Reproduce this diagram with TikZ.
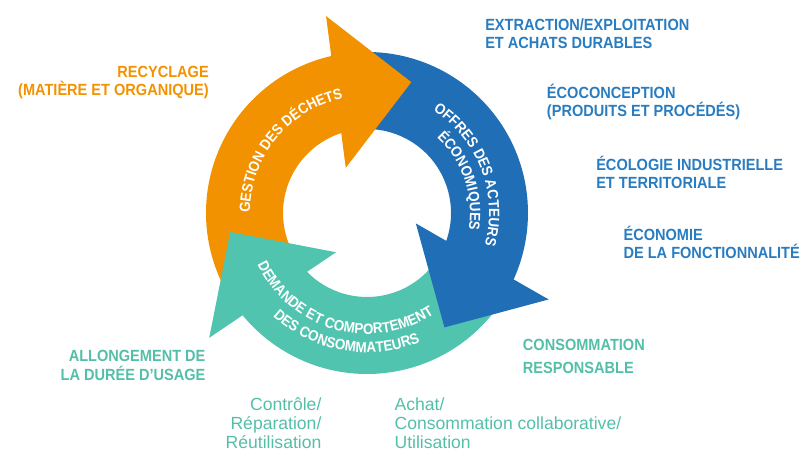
\documentclass[tikz,border=0pt]{standalone}
\usepackage{fontspec}
\setmainfont{Liberation Sans}[BoldFeatures={FakeStretch=0.9}]
\usetikzlibrary{decorations.text}

\definecolor{recyorange}{RGB}{243,146,0}
\definecolor{offreblue}{RGB}{31,110,182}
\definecolor{offretext}{RGB}{40,124,193}
\definecolor{demteal}{RGB}{81,196,175}
\definecolor{demtext}{RGB}{84,191,168}

% ring part of an arrow: colour, start angle, end angle (clockwise)
\newcommand{\ringpart}[3]{%
  \fill[#1] (#2:161) arc[start angle=#2, end angle=#3, radius=161]
    -- (#3:84) arc[start angle=#3, end angle=#2, radius=84] -- cycle;}
% arrow head: colour, angle of its base
\newcommand{\ringhead}[2]{%
  \fill[#1, rotate=#2, shift={(125,0)}, rotate=-7] (-76.5,0) -- (76.5,0) -- (0,-76) -- cycle;}

\begin{document}
\begin{tikzpicture}[x=0.025cm, y=0.025cm,
	lbl/.style={font=\bfseries\fontsize{11.5}{13}\selectfont, inner sep=0},
	sublbl/.style={font=\fontsize{12.5}{13.5}\selectfont, inner sep=0},
	ringtext/.style={decorate, decoration={text along path, text align=center, text color=white, text={#1}}}]
	\useasboundingbox (-367,-237) rectangle (434,213);
	\coordinate (c) at (0,0);
	\ringpart{recyorange}{211}{99.4}
	\ringpart{offreblue}{94.4}{-27.8}
	\ringpart{demteal}{327.2}{216}
	\ringhead{recyorange}{104.4}
	\ringhead{offreblue}{-22.8}
	\ringhead{demteal}{221}
	\path[ringtext={|\bfseries\fontsize{10.6}{12}\selectfont|GESTION DES DÉCHETS}] (200.8:117) arc[start angle=200.8, end angle=80.8, radius=117];
	\path[ringtext={|\bfseries\fontsize{10.6}{12}\selectfont|OFFRES DES ACTEURS}] (81:122) arc[start angle=81, end angle=-39, radius=122];
	\path[ringtext={|\bfseries\fontsize{10.6}{12}\selectfont|ÉCONOMIQUES}] (79:103) arc[start angle=79, end angle=-41, radius=103];
	\path[ringtext={|\bfseries\fontsize{10.6}{12}\selectfont|DEMANDE ET COMPORTEMENT}] (194.5:121) arc[start angle=194.5, end angle=314.5, radius=121];
	\path[ringtext={|\bfseries\fontsize{10.6}{12}\selectfont|DES CONSOMMATEURS}] (200:139.5) arc[start angle=200, end angle=320, radius=139.5];
	% anchors sit on the last line
	\node[lbl, text=recyorange, anchor=base east, align=right] (recycl) at (-158,117.4) {RECYCLAGE\\(MATIÈRE ET ORGANIQUE)};
	\node[lbl, text=offretext, anchor=base west, align=left] (extract) at (118,164.7) {EXTRACTION/EXPLOITATION\\ET ACHATS DURABLES};
	\node[lbl, text=offretext, anchor=base west, align=left] (ecoconc) at (179.7,96.4) {ÉCOCONCEPTION\\(PRODUITS ET PROCÉDÉS)};
	\node[lbl, text=offretext, anchor=base west, align=left] (ecolog) at (229,24.7) {ÉCOLOGIE INDUSTRIELLE\\ET TERRITORIALE};
	\node[lbl, text=offretext, anchor=base west, align=left] (econom) at (256.3,-45.3) {ÉCONOMIE\\DE LA FONCTIONNALITÉ};
	\node[lbl, text=demtext, anchor=base west, align=left] (conso) at (155.7,-160.3) {CONSOMMATION\\[3pt]RESPONSABLE};
	\node[lbl, text=demtext, anchor=base east, align=right] (allong) at (-161.3,-167) {ALLONGEMENT DE\\LA DURÉE D’USAGE};
	\node[sublbl, text=demtext, anchor=base east, align=right] (repar) at (-45.3,-235) {Contrôle/\\Réparation/\\Réutilisation};
	\node[sublbl, text=demtext, anchor=base west, align=left] (achat) at (27.3,-235) {Achat/\\Consommation collaborative/\\Utilisation};
\end{tikzpicture}
\end{document}
